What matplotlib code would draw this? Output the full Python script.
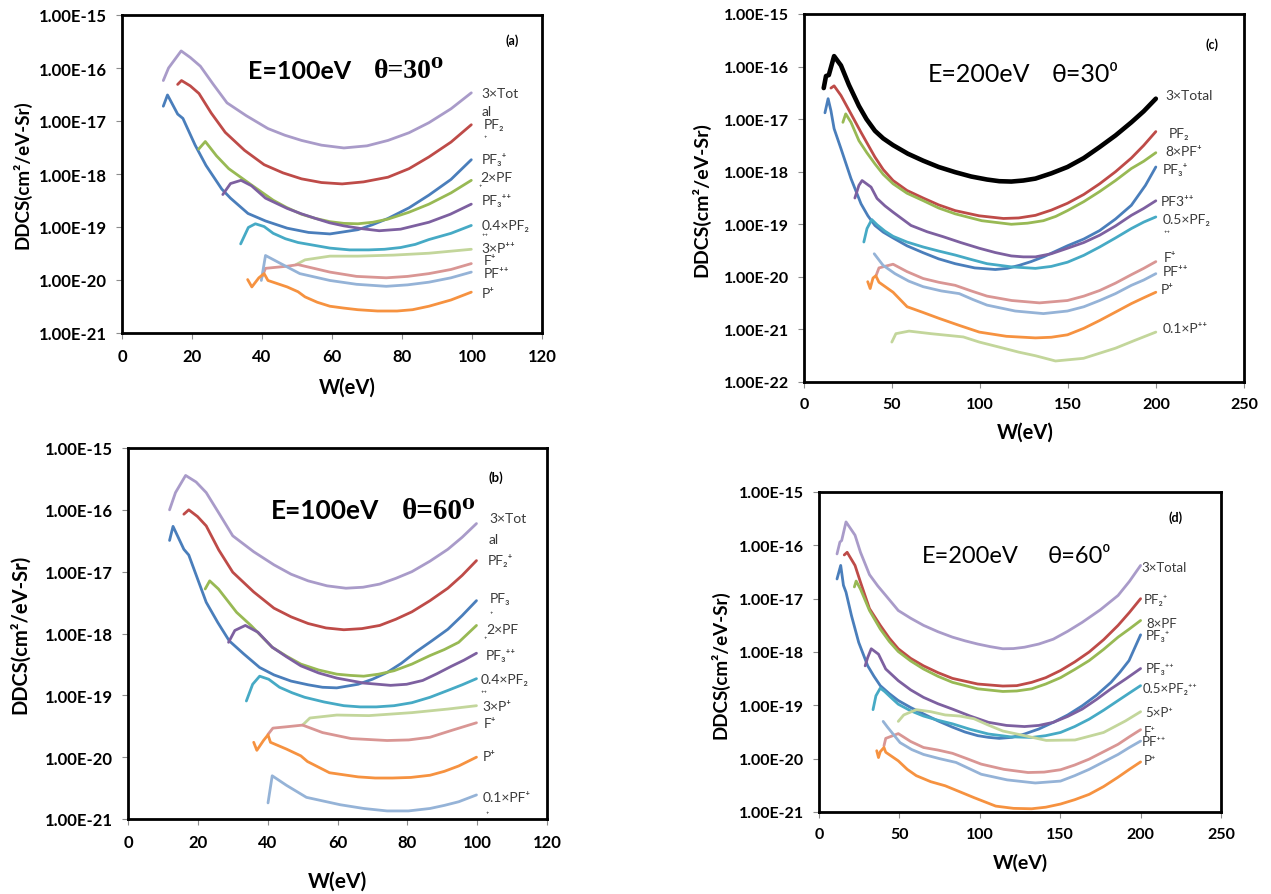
import numpy as np
import matplotlib
matplotlib.use("Agg")
import matplotlib.pyplot as plt
from matplotlib.ticker import FuncFormatter, NullLocator

plt.rcParams['font.family'] = ['Lato', 'DejaVu Sans']

# ---------------- data: panel (a) E=100 eV, theta=30 ----------------
a_total_w = [11.8, 13.3, 16.9, 19.5, 22.4, 26.0, 30.0, 35.5, 41.7, 46.5, 51.3, 57.0, 63.4, 70.0, 76.0, 82.0, 87.7, 94.0, 99.8]
a_total_y = [5.8e-17, 1.0e-16, 2.1e-16, 1.58e-16, 1.08e-16, 5.0e-17, 2.2e-17, 1.26e-17, 7.2e-18, 5.4e-18, 4.3e-18,
             3.5e-18, 3.1e-18, 3.4e-18, 4.3e-18, 6.0e-18, 9.3e-18, 1.7e-17, 3.4e-17]
a_pf2p_w = [15.9, 17.0, 19.5, 22.0, 25.5, 29.5, 35.0, 40.6, 46.0, 51.3, 57.0, 62.9, 69.0, 76.0, 82.0, 87.7, 94.0, 99.8]
a_pf2p_y = [4.9e-17, 5.8e-17, 4.6e-17, 3.3e-17, 1.41e-17, 6.1e-18, 2.8e-18, 1.5e-18, 1.05e-18, 8.1e-19, 6.9e-19,
            6.5e-19, 7.1e-19, 8.7e-19, 1.26e-18, 2.1e-18, 4.0e-18, 8.5e-18]
a_pf3p_w = [11.8, 13.0, 15.9, 17.4, 20.9, 24.0, 28.5, 31.0, 36.0, 41.0, 47.2, 53.3, 59.4, 67.4, 71.5, 76.0, 82.0,
            87.7, 94.0, 99.8]
a_pf3p_y = [1.9e-17, 3.1e-17, 1.35e-17, 1.12e-17, 3.5e-18, 1.45e-18, 5.2e-19, 3.5e-19, 1.8e-19, 1.3e-19, 9.5e-20,
            7.9e-20, 7.4e-20, 8.9e-20, 1.1e-19, 1.45e-19, 2.3e-19, 4.0e-19, 7.9e-19, 1.86e-18]
a_pfp_w = [21.9, 23.8, 27.0, 30.5, 37.0, 43.2, 47.0, 51.3, 55.3, 59.4, 63.4, 67.4, 71.7, 76.0, 82.0, 87.7, 94.0, 99.8]
a_pfp_y = [2.95e-18, 4.1e-18, 2.2e-18, 1.26e-18, 6.2e-19, 3.2e-19, 2.34e-19, 1.74e-19, 1.45e-19, 1.26e-19, 1.17e-19,
           1.15e-19, 1.23e-19, 1.41e-19, 1.9e-19, 2.7e-19, 4.4e-19, 7.6e-19]
a_pf3pp_w = [28.8, 31.0, 34.0, 37.0, 41.0, 47.2, 51.2, 55.3, 59.3, 63.4, 68.5, 73.5, 79.6, 87.7, 93.8, 99.8]
a_pf3pp_y = [4.1e-19, 6.6e-19, 7.6e-19, 6.0e-19, 3.5e-19, 2.24e-19, 1.78e-19, 1.45e-19, 1.2e-19, 1.05e-19, 9.3e-20,
             8.5e-20, 9.1e-20, 1.23e-19, 1.74e-19, 2.7e-19]
a_pf2pp_w = [33.9, 36.1, 38.1, 40.6, 43.2, 46.7, 50.3, 55.0, 59.4, 65.0, 70.5, 75.0, 79.6, 83.8, 87.7, 94.0, 99.8]
a_pf2pp_y = [4.8e-20, 9.8e-20, 1.15e-19, 1.02e-19, 7.6e-20, 6.0e-20, 5.1e-20, 4.5e-20, 4.0e-20, 3.7e-20, 3.7e-20,
             3.8e-20, 4.1e-20, 4.7e-20, 5.8e-20, 7.6e-20, 1.07e-19]
a_ppp_w = [49.7, 52.3, 59.4, 67.4, 77.6, 87.7, 99.8]
a_ppp_y = [1.95e-20, 2.4e-20, 2.82e-20, 2.82e-20, 2.95e-20, 3.2e-20, 3.8e-20]
a_fp_w = [40.1, 41.0, 47.2, 50.3, 59.4, 67.0, 75.5, 81.6, 87.7, 94.0, 99.8]
a_fp_y = [1.17e-20, 1.66e-20, 1.82e-20, 1.95e-20, 1.41e-20, 1.17e-20, 1.1e-20, 1.17e-20, 1.32e-20, 1.58e-20, 2.04e-20]
a_pfpp_w = [39.8, 41.0, 44.2, 50.8, 59.4, 67.0, 75.5, 81.6, 87.7, 94.0, 99.8]
a_pfpp_y = [9.8e-21, 2.9e-20, 2.24e-20, 1.32e-20, 9.8e-21, 8.3e-21, 7.6e-21, 8.1e-21, 9.1e-21, 1.1e-20, 1.41e-20]
a_pp_w = [35.9, 37.1, 39.1, 40.6, 41.7, 47.2, 50.3, 52.3, 55.8, 59.4, 63.4, 67.4, 73.0, 78.6, 83.0, 87.7, 94.0, 99.8]
a_pp_y = [1.02e-20, 7.4e-21, 1.1e-20, 1.32e-20, 9.8e-21, 7.4e-21, 6.0e-21, 4.8e-21, 3.8e-21, 3.2e-21, 2.95e-21,
          2.75e-21, 2.6e-21, 2.6e-21, 2.75e-21, 3.2e-21, 4.2e-21, 5.9e-21]

# ---------------- data: panel (b) E=100 eV, theta=60 ----------------
b_total_w = [11.9, 13.6, 16.5, 19.5, 22.4, 26.0, 30.0, 36.0, 41.8, 46.7, 51.6, 57.0, 62.4, 67.3, 72.1, 76.7, 81.3,
             86.5, 91.6, 95.7, 99.8]
b_total_y = [1.0e-16, 1.9e-16, 3.6e-16, 2.82e-16, 1.9e-16, 8.9e-17, 3.8e-17, 2.1e-17, 1.29e-17, 9.1e-18, 7.1e-18,
             5.9e-18, 5.4e-18, 5.6e-18, 6.3e-18, 7.8e-18, 1.0e-17, 1.48e-17, 2.3e-17, 3.6e-17, 6.0e-17]
b_pf2p_w = [16.0, 17.4, 19.9, 22.4, 26.0, 30.0, 36.0, 41.8, 46.7, 51.6, 56.7, 61.8, 67.0, 72.1, 76.7, 81.3, 86.5,
            91.6, 95.7, 99.8]
b_pf2p_y = [8.5e-17, 1.0e-16, 7.8e-17, 5.5e-17, 2.24e-17, 9.8e-18, 4.7e-18, 2.57e-18, 1.86e-18, 1.45e-18, 1.23e-18,
            1.15e-18, 1.2e-18, 1.35e-18, 1.7e-18, 2.24e-18, 3.4e-18, 5.4e-18, 8.7e-18, 1.51e-17]
b_pf3p_w = [11.9, 12.9, 16.0, 17.4, 22.4, 25.7, 29.0, 33.1, 37.7, 41.8, 46.7, 51.6, 55.7, 59.8, 65.9, 70.0, 74.2,
            78.3, 82.4, 87.0, 91.6, 95.7, 99.8]
b_pf3p_y = [3.2e-17, 5.4e-17, 2.3e-17, 1.86e-17, 3.2e-18, 1.51e-18, 7.6e-19, 4.7e-19, 2.82e-19, 2.14e-19, 1.7e-19,
            1.48e-19, 1.35e-19, 1.32e-19, 1.51e-19, 1.82e-19, 2.34e-19, 3.3e-19, 5.0e-19, 7.6e-19, 1.17e-18,
            1.95e-18, 3.4e-18]
b_pfp_w = [22.1, 23.4, 25.9, 28.5, 31.1, 35.2, 41.3, 45.4, 49.5, 54.6, 59.8, 63.7, 67.5, 71.8, 76.2, 81.3, 86.5,
           90.6, 94.7, 99.8]
b_pfp_y = [5.25e-18, 7.1e-18, 5.25e-18, 3.4e-18, 2.2e-18, 1.35e-18, 6.0e-19, 4.3e-19, 3.2e-19, 2.57e-19, 2.2e-19,
           2.1e-19, 2.04e-19, 2.2e-19, 2.5e-19, 3.2e-19, 4.4e-19, 5.5e-19, 7.2e-19, 1.35e-18]
b_pf3pp_w = [28.8, 30.6, 33.6, 37.2, 41.3, 45.4, 49.5, 54.6, 59.8, 67.5, 75.2, 79.8, 84.4, 88.5, 92.6, 96.2, 99.8]
b_pf3pp_y = [7.2e-19, 1.12e-18, 1.35e-18, 1.05e-18, 6.0e-19, 4.2e-19, 3.0e-19, 2.3e-19, 1.9e-19, 1.58e-19, 1.45e-19,
             1.51e-19, 1.74e-19, 2.24e-19, 2.95e-19, 3.7e-19, 4.8e-19]
b_pf2pp_w = [33.9, 35.7, 37.7, 40.3, 43.4, 47.0, 50.6, 56.2, 61.8, 66.5, 71.1, 76.2, 81.3, 86.5, 91.6, 95.7, 99.8]
b_pf2pp_y = [8.1e-20, 1.51e-19, 2.04e-19, 1.82e-19, 1.35e-19, 1.1e-19, 9.3e-20, 7.8e-20, 6.8e-20, 6.5e-20, 6.5e-20,
             6.8e-20, 7.6e-20, 9.3e-20, 1.2e-19, 1.48e-19, 1.86e-19]
b_ppp_w = [50.0, 52.1, 59.8, 69.0, 81.3, 91.6, 99.8]
b_ppp_y = [3.3e-20, 4.3e-20, 4.8e-20, 4.7e-20, 5.25e-20, 6.0e-20, 6.8e-20]
b_fp_w = [40.1, 41.5, 45.4, 50.0, 55.7, 63.9, 74.2, 80.4, 86.5, 92.6, 99.8]
b_fp_y = [2.34e-20, 2.95e-20, 3.1e-20, 3.3e-20, 2.5e-20, 2.0e-20, 1.86e-20, 1.9e-20, 2.1e-20, 2.7e-20, 3.6e-20]
b_pp_w = [36.0, 36.9, 38.8, 40.1, 40.8, 45.4, 49.5, 51.4, 57.7, 65.9, 70.8, 75.7, 81.0, 86.5, 90.6, 94.7, 99.8]
b_pp_y = [1.74e-20, 1.29e-20, 1.86e-20, 2.3e-20, 1.74e-20, 1.35e-20, 1.05e-20, 8.5e-21, 5.6e-21, 4.8e-21, 4.6e-21,
          4.6e-21, 4.7e-21, 5.1e-21, 5.9e-21, 7.2e-21, 1.0e-20]
b_pfpp_w = [40.1, 41.3, 45.4, 51.1, 60.8, 67.5, 74.2, 80.3, 86.5, 90.6, 94.7, 99.8]
b_pfpp_y = [1.82e-21, 5.0e-21, 3.5e-21, 2.24e-21, 1.7e-21, 1.48e-21, 1.35e-21, 1.35e-21, 1.48e-21, 1.66e-21,
            1.9e-21, 2.45e-21]

# ---------------- data: panel (c) E=200 eV, theta=30 ----------------
c_total_w = [11.2, 12.5, 14.1, 17.1, 21.0, 25.5, 31.2, 35.5, 40.3, 45.0, 50.6, 59.0, 67.7, 76.5, 85.9, 95.0, 104.0,
             111.0, 117.8, 124.6, 131.5, 140.5, 149.7, 159.0, 168.0, 177.0, 186.0, 193.0, 199.9]
c_total_y = [3.9e-17, 6.6e-17, 6.9e-17, 1.58e-16, 1.05e-16, 4.5e-17, 1.78e-17, 1.0e-17, 6.0e-18, 4.3e-18, 3.2e-18,
             2.2e-18, 1.62e-18, 1.23e-18, 9.8e-19, 8.1e-19, 7.1e-19, 6.6e-19, 6.5e-19, 6.8e-19, 7.4e-19, 9.3e-19,
             1.23e-18, 1.82e-18, 2.95e-18, 4.9e-18, 8.7e-18, 1.41e-17, 2.45e-17]
c_pf2p_w = [15.3, 17.1, 21.0, 26.7, 32.4, 40.3, 45.0, 50.6, 58.5, 67.7, 76.5, 85.9, 99.5, 113.3, 122.0, 131.5,
            140.5, 149.7, 159.0, 168.0, 177.0, 186.0, 193.0, 199.9]
c_pf2p_y = [3.9e-17, 4.3e-17, 2.82e-17, 1.26e-17, 5.6e-18, 1.9e-18, 1.1e-18, 6.8e-19, 4.4e-19, 3.16e-19, 2.34e-19,
            1.82e-19, 1.45e-19, 1.29e-19, 1.32e-19, 1.48e-19, 1.86e-19, 2.51e-19, 3.7e-19, 5.9e-19, 1.0e-18,
            1.82e-18, 3.16e-18, 5.8e-18]
c_pfp_w = [22.1, 23.7, 26.7, 31.2, 35.7, 40.3, 45.0, 50.6, 58.5, 67.7, 76.5, 85.9, 101.0, 117.8, 127.0, 136.0,
           143.0, 149.7, 159.0, 168.0, 177.0, 186.0, 193.0, 199.9]
c_pfp_y = [8.7e-18, 1.26e-17, 8.7e-18, 3.9e-18, 2.3e-18, 1.41e-18, 8.9e-19, 5.9e-19, 3.9e-19, 2.82e-19, 2.04e-19,
           1.58e-19, 1.17e-19, 1.0e-19, 1.05e-19, 1.17e-19, 1.41e-19, 1.82e-19, 2.7e-19, 4.2e-19, 6.8e-19,
           1.15e-18, 1.58e-18, 2.3e-18]
c_pf3p_w = [11.9, 13.7, 15.3, 17.1, 21.0, 26.7, 32.4, 36.3, 40.3, 45.0, 50.6, 58.5, 67.7, 76.5, 85.9, 97.0, 108.7,
            115.5, 122.4, 129.0, 136.0, 149.7, 159.0, 168.0, 177.0, 186.0, 194.0, 199.9]
c_pf3p_y = [1.32e-17, 2.45e-17, 1.45e-17, 6.6e-18, 2.75e-18, 7.4e-19, 2.45e-19, 1.45e-19, 9.5e-20, 7.1e-20, 5.5e-20,
            3.9e-20, 2.88e-20, 2.2e-20, 1.78e-20, 1.48e-20, 1.38e-20, 1.45e-20, 1.66e-20, 1.95e-20, 2.4e-20,
            3.9e-20, 5.25e-20, 7.6e-20, 1.26e-19, 2.3e-19, 5.5e-19, 1.23e-18]
c_pf3pp_w = [28.9, 31.2, 33.0, 38.1, 41.5, 46.0, 50.6, 60.8, 70.0, 79.1, 89.0, 99.6, 108.7, 117.8, 124.6, 131.5,
             140.5, 149.7, 159.0, 168.0, 177.0, 186.0, 193.0, 199.9]
c_pf3pp_y = [3.16e-19, 5.5e-19, 6.8e-19, 5.1e-19, 3.1e-19, 2.24e-19, 1.7e-19, 9.5e-20, 7.2e-20, 5.8e-20, 4.5e-20,
             3.5e-20, 2.9e-20, 2.5e-20, 2.4e-20, 2.4e-20, 2.75e-20, 3.5e-20, 4.5e-20, 6.2e-20, 9.3e-20, 1.48e-19,
             2.0e-19, 2.8e-19]
c_pf2pp_w = [34.0, 35.8, 38.5, 41.5, 46.0, 50.6, 58.5, 67.7, 76.5, 85.9, 95.0, 104.0, 117.8, 131.5, 140.5, 149.7,
             159.0, 168.0, 177.0, 186.0, 193.0, 199.9]
c_pf2pp_y = [4.6e-20, 8.3e-20, 1.23e-19, 9.8e-20, 7.4e-20, 5.9e-20, 4.6e-20, 3.7e-20, 3.1e-20, 2.6e-20, 2.14e-20,
             1.78e-20, 1.55e-20, 1.45e-20, 1.58e-20, 1.9e-20, 2.57e-20, 3.7e-20, 5.5e-20, 8.3e-20, 1.1e-19, 1.38e-19]
c_fp_w = [41.0, 42.6, 50.6, 58.5, 67.7, 76.5, 85.9, 95.0, 104.0, 118.0, 133.8, 149.7, 159.0, 168.0, 177.0, 186.0,
          193.0, 199.9]
c_fp_y = [1.07e-20, 1.48e-20, 1.74e-20, 1.26e-20, 9.3e-21, 7.9e-21, 6.9e-21, 5.4e-21, 4.3e-21, 3.55e-21, 3.2e-21,
          3.55e-21, 4.3e-21, 5.5e-21, 7.6e-21, 1.1e-20, 1.45e-20, 1.95e-20]
c_pfpp_w = [39.9, 44.9, 51.7, 59.5, 67.7, 78.0, 88.2, 96.0, 104.0, 120.0, 136.0, 149.7, 159.0, 168.0, 177.0, 186.0,
            193.0, 199.9]
c_pfpp_y = [2.75e-20, 1.66e-20, 1.15e-20, 8.3e-21, 6.5e-21, 5.4e-21, 4.8e-21, 3.7e-21, 2.9e-21, 2.24e-21, 2.0e-21,
            2.24e-21, 2.7e-21, 3.55e-21, 4.8e-21, 6.9e-21, 8.7e-21, 1.15e-20]
c_pp_w = [36.2, 37.6, 39.2, 40.8, 42.6, 50.6, 58.6, 67.7, 76.8, 88.0, 99.6, 115.0, 131.5, 140.5, 149.7, 159.0,
          168.0, 177.0, 186.0, 193.0, 199.9]
c_pp_y = [8.1e-21, 6.0e-21, 9.5e-21, 1.05e-20, 7.9e-21, 5.1e-21, 2.7e-21, 2.1e-21, 1.62e-21, 1.2e-21, 8.9e-22,
          7.4e-22, 6.9e-22, 7.1e-22, 7.9e-22, 1.05e-21, 1.48e-21, 2.14e-21, 3.1e-21, 4.0e-21, 5.1e-21]
c_ppp_w = [49.9, 52.2, 59.7, 72.2, 90.5, 99.6, 113.3, 122.0, 131.5, 142.9, 158.8, 177.0, 188.0, 199.9]
c_ppp_y = [5.75e-22, 8.3e-22, 9.3e-22, 8.3e-22, 7.2e-22, 5.75e-22, 4.4e-22, 3.7e-22, 3.16e-22, 2.51e-22, 2.82e-22,
           4.4e-22, 6.2e-22, 8.9e-22]

# ---------------- data: panel (d) E=200 eV, theta=60 ----------------
d_total_w = [11.2, 13.0, 14.1, 16.8, 22.4, 25.8, 31.4, 36.5, 41.5, 49.3, 57.0, 65.0, 74.0, 83.0, 90.8, 98.7, 106.5,
             114.3, 121.0, 127.8, 136.7, 145.7, 154.7, 163.7, 175.0, 186.0, 193.0, 200.0]
d_total_y = [6.9e-17, 1.15e-16, 1.23e-16, 2.75e-16, 1.55e-16, 7.4e-17, 2.82e-17, 1.74e-17, 1.15e-17, 6.0e-18,
             4.3e-18, 3.16e-18, 2.4e-18, 1.9e-18, 1.62e-18, 1.41e-18, 1.26e-18, 1.15e-18, 1.16e-18, 1.23e-18,
             1.41e-18, 1.74e-18, 2.45e-18, 3.6e-18, 6.2e-18, 1.15e-17, 2.1e-17, 4.2e-17]
d_pf2p_w = [15.7, 17.5, 22.4, 25.8, 31.4, 38.1, 43.7, 49.3, 57.0, 65.0, 74.0, 83.0, 98.7, 114.3, 123.0, 132.3,
            141.0, 150.2, 159.0, 168.0, 177.0, 186.0, 193.0, 200.0]
d_pf2p_y = [6.6e-17, 7.4e-17, 4.2e-17, 2.04e-17, 6.5e-18, 3.16e-18, 1.82e-18, 1.15e-18, 7.6e-19, 5.5e-19, 4.1e-19,
            3.2e-19, 2.51e-19, 2.3e-19, 2.34e-19, 2.7e-19, 3.3e-19, 4.5e-19, 6.5e-19, 1.0e-18, 1.7e-18, 3.16e-18,
            5.5e-18, 1.0e-17]
d_pfp_w = [22.0, 23.1, 25.8, 31.4, 38.1, 43.7, 49.3, 57.0, 65.0, 74.0, 83.0, 98.7, 114.3, 123.0, 132.3, 141.0,
           150.2, 159.0, 168.0, 177.0, 186.0, 193.0, 200.0]
d_pfp_y = [1.66e-17, 2.14e-17, 1.51e-17, 6.0e-18, 2.7e-18, 1.58e-18, 1.02e-18, 6.8e-19, 4.8e-19, 3.5e-19, 2.7e-19,
           2.04e-19, 1.82e-19, 1.86e-19, 2.04e-19, 2.51e-19, 3.3e-19, 4.7e-19, 6.9e-19, 1.12e-18, 1.9e-18,
           2.7e-18, 3.9e-18]
d_pf3p_w = [11.2, 13.5, 15.2, 16.8, 20.2, 24.7, 30.3, 34.2, 38.1, 43.7, 49.3, 57.0, 65.0, 74.0, 83.0, 90.8, 98.7,
            105.4, 112.1, 120.0, 127.8, 136.7, 145.7, 154.7, 163.7, 172.6, 181.6, 187.2, 192.8, 200.0]
d_pf3p_y = [2.34e-17, 4.2e-17, 1.78e-17, 1.32e-17, 4.8e-18, 1.51e-18, 5.5e-19, 3.5e-19, 2.34e-19, 1.66e-19,
            1.23e-19, 9.1e-20, 6.9e-20, 5.1e-20, 3.9e-20, 3.16e-20, 2.7e-20, 2.51e-20, 2.4e-20, 2.51e-20, 2.9e-20,
            3.6e-20, 4.8e-20, 6.6e-20, 9.8e-20, 1.55e-19, 2.7e-19, 4.2e-19, 6.9e-19, 2.1e-18]
d_pf3pp_w = [28.7, 30.3, 32.5, 37.0, 41.5, 49.3, 57.0, 65.0, 74.0, 83.0, 94.0, 105.4, 116.6, 127.8, 136.7, 145.7,
             154.7, 163.7, 172.6, 181.6, 191.0, 200.0]
d_pf3pp_y = [5.5e-19, 7.9e-19, 1.15e-18, 9.1e-19, 4.8e-19, 2.9e-19, 1.95e-19, 1.41e-19, 1.07e-19, 8.5e-20, 6.3e-20,
             4.8e-20, 4.2e-20, 4.0e-20, 4.2e-20, 4.8e-20, 6.2e-20, 8.5e-20, 1.29e-19, 2.04e-19, 3.16e-19, 4.9e-19]
d_pf2pp_w = [33.6, 35.4, 38.1, 40.8, 45.0, 49.3, 57.0, 65.0, 74.0, 83.0, 94.0, 105.4, 119.0, 132.3, 141.0, 150.2,
             159.0, 168.0, 177.0, 186.0, 193.0, 200.0]
d_pf2pp_y = [8.3e-20, 1.51e-19, 2.1e-19, 1.82e-19, 1.38e-19, 1.05e-19, 7.9e-20, 6.3e-20, 5.25e-20, 4.5e-20, 3.55e-20,
             2.9e-20, 2.57e-20, 2.5e-20, 2.7e-20, 3.1e-20, 4.0e-20, 5.5e-20, 8.1e-20, 1.23e-19, 1.7e-19, 2.34e-19]
d_ppp_w = [49.3, 52.7, 60.5, 69.5, 78.5, 87.5, 96.4, 105.0, 114.3, 127.8, 141.3, 159.2, 177.0, 190.6, 200.0]
d_ppp_y = [5.0e-20, 6.6e-20, 8.3e-20, 7.6e-20, 6.6e-20, 6.3e-20, 5.6e-20, 4.3e-20, 3.3e-20, 2.7e-20, 2.2e-20,
           2.24e-20, 3.1e-20, 5.1e-20, 7.6e-20]
d_fp_w = [40.4, 41.5, 49.3, 57.0, 65.0, 74.0, 83.0, 92.0, 100.9, 115.0, 130.0, 140.0, 150.2, 159.0, 168.0, 177.0,
          186.0, 193.0, 200.0]
d_fp_y = [1.74e-20, 2.4e-20, 2.95e-20, 2.1e-20, 1.62e-20, 1.45e-20, 1.26e-20, 1.0e-20, 7.9e-21, 6.3e-21, 5.5e-21,
          5.6e-21, 6.2e-21, 7.6e-21, 9.8e-21, 1.35e-20, 1.86e-20, 2.57e-20, 3.5e-20]
d_pfpp_w = [39.9, 42.6, 50.4, 57.7, 65.0, 75.0, 85.2, 93.0, 100.9, 117.0, 134.5, 150.2, 159.0, 168.0, 177.0, 186.0,
            193.0, 200.0]
d_pfpp_y = [5.0e-20, 3.9e-20, 2.0e-20, 1.48e-20, 1.2e-20, 1.0e-20, 8.5e-21, 6.6e-21, 5.1e-21, 4.0e-21, 3.5e-21,
            3.8e-21, 4.8e-21, 6.3e-21, 8.7e-21, 1.2e-20, 1.62e-20, 2.14e-20]
d_pp_w = [35.9, 37.0, 38.1, 40.4, 41.5, 49.3, 54.9, 60.5, 69.5, 78.5, 87.5, 96.4, 109.9, 121.0, 132.3, 141.0, 150.2,
          159.0, 168.0, 177.0, 186.0, 193.0, 200.0]
d_pp_y = [1.41e-20, 1.05e-20, 1.35e-20, 1.62e-20, 1.32e-20, 9.1e-21, 6.3e-21, 4.8e-21, 3.7e-21, 3.1e-21, 2.4e-21,
          1.86e-21, 1.29e-21, 1.17e-21, 1.15e-21, 1.23e-21, 1.41e-21, 1.7e-21, 2.14e-21, 3.0e-21, 4.5e-21, 6.3e-21,
          8.7e-21]

# ---------------- styles ----------------
LAV = '#A99BC9'
RED = '#BE4B48'
BLUE = '#4A7EBB'
GREEN = '#98B954'
PURPLE = '#7D60A0'
TEAL = '#46AAC5'
ORANGE = '#F69240'
PINK = '#D99694'
LBLUE = '#95B3D7'
LGREEN = '#C3D69B'
LBL_COL = '#3a3a3a'

FW, FH = 1271, 895
fig = plt.figure(figsize=(FW / 100, FH / 100), dpi=100)


def add_axes(l, t, r, b):
    return fig.add_axes([l / FW, 1 - b / FH, (r - l) / FW, (b - t) / FH])


def sci(v, pos):
    e = int(round(np.log10(v)))
    return "1.00E%d" % e


def style(ax, xmax, xstep, ymin_exp, ymax_exp, tick_fs):
    ax.set_yscale('log')
    ax.set_xlim(0, xmax)
    ax.set_ylim(10.0 ** ymin_exp, 10.0 ** ymax_exp)
    ax.set_xticks(np.arange(0, xmax + 1, xstep))
    ax.set_xticklabels([str(int(v)) for v in np.arange(0, xmax + 1, xstep)], fontweight='bold')
    ax.set_yticks([10.0 ** e for e in range(ymin_exp, ymax_exp + 1)])
    ax.yaxis.set_major_formatter(FuncFormatter(sci))
    ax.yaxis.set_minor_locator(NullLocator())
    for lab in ax.get_yticklabels():
        lab.set_fontweight('bold')
    ax.tick_params(axis='both', which='major', direction='out', length=4, width=0.8,
                   color='#8c8c8c', labelsize=tick_fs, pad=7)
    for s in ax.spines.values():
        s.set_linewidth(2.0)
        s.set_color('black')


def curves(ax, series):
    for w, y, col, lw in series:
        ax.plot(w, y, color=col, lw=lw, solid_joinstyle='round', solid_capstyle='round')


def labels(ax, items, fs=10):
    for txt, x, ly in items:
        size = fs * 0.75 if txt in ("⁺", "⁺⁺") else fs
        ax.text(x, 10.0 ** ly, txt, fontsize=size, color=LBL_COL, ha='left', va='center')


LW = 2.0

# ---------------- panel (a) ----------------
ax = add_axes(122, 16, 542, 334)
style(ax, 120, 20, -21, -15, 12)
curves(ax, [
    (a_total_w, a_total_y, LAV, LW), (a_pf2p_w, a_pf2p_y, RED, LW), (a_pf3p_w, a_pf3p_y, BLUE, LW),
    (a_pfp_w, a_pfp_y, GREEN, LW), (a_pf3pp_w, a_pf3pp_y, PURPLE, LW), (a_pf2pp_w, a_pf2pp_y, TEAL, LW),
    (a_ppp_w, a_ppp_y, LGREEN, LW), (a_fp_w, a_fp_y, PINK, LW), (a_pfpp_w, a_pfpp_y, LBLUE, LW),
    (a_pp_w, a_pp_y, ORANGE, LW)])
labels(ax, [("3×Tot", 102.8, -16.47), ("al", 102.8, -16.81), ("PF₂", 103.3, -17.06), ("⁺", 103.3, -17.35),
            ("PF₃⁺", 102.8, -17.70), ("2×PF", 102.3, -18.06), ("⁺", 101.8, -18.27), ("PF₃⁺⁺", 102.8, -18.48),
            ("0.4×PF₂", 102.8, -18.96), ("⁺⁺", 102.8, -19.19), ("3×P⁺⁺", 102.8, -19.40), ("F⁺", 103.3, -19.63),
            ("PF⁺⁺", 103.3, -19.86), ("P⁺", 102.8, -20.24)])
ax.text(36, 10 ** -16.04, "E=100eV", fontsize=18, fontweight='bold', ha='left', va='center')
ax.text(72, 10 ** -16.04, "θ=30⁰", fontsize=20, fontweight='bold', ha='left', va='center',
        family=['Liberation Serif', 'DejaVu Serif'])
ax.text(111.4, 10 ** -15.47, "(a)", fontsize=9, fontweight='bold', ha='center', va='center')
fig.text(22 / FW, 1 - 175 / FH, "DDCS(cm²/eV-Sr)", rotation=90, fontsize=13.5, fontweight='bold',
         ha='center', va='center')
fig.text(347 / FW, 1 - 388 / FH, "W(eV)", fontsize=14.5, fontweight='bold', ha='center', va='center')

# ---------------- panel (c) ----------------
ax = add_axes(804, 15, 1244, 383)
style(ax, 250, 50, -22, -15, 11.5)
curves(ax, [
    (c_pf2p_w, c_pf2p_y, RED, LW), (c_pfp_w, c_pfp_y, GREEN, LW), (c_pf3p_w, c_pf3p_y, BLUE, LW),
    (c_pf3pp_w, c_pf3pp_y, PURPLE, LW), (c_pf2pp_w, c_pf2pp_y, TEAL, LW), (c_fp_w, c_fp_y, PINK, LW),
    (c_pfpp_w, c_pfpp_y, LBLUE, LW), (c_pp_w, c_pp_y, ORANGE, LW), (c_ppp_w, c_ppp_y, LGREEN, LW),
    (c_total_w, c_total_y, 'black', 3.3)])
labels(ax, [("3×Total", 205.6, -16.55), ("PF₂", 207.2, -17.27), ("8×PF⁺", 205.6, -17.60),
            ("PF₃⁺", 204.0, -17.93), ("PF3⁺⁺", 202.8, -18.55), ("0.5×PF₂", 204.0, -18.90), ("⁺⁺", 204.0, -19.20),
            ("F⁺", 204.4, -19.62), ("PF⁺⁺", 204.0, -19.88), ("P⁺", 202.8, -20.24), ("0.1×P⁺⁺", 204.0, -20.97)])
ax.text(70.4, 10 ** -16.14, "E=200eV", fontsize=18, ha='left', va='center')
ax.text(140.6, 10 ** -16.14, "θ=30⁰", fontsize=18, ha='left', va='center')
ax.text(231.8, 10 ** -15.57, "(c)", fontsize=9, fontweight='bold', ha='center', va='center')
fig.text(701 / FW, 1 - 200 / FH, "DDCS(cm²/eV-Sr)", rotation=90, fontsize=14, fontweight='bold',
         ha='center', va='center')
fig.text(1025 / FW, 1 - 433 / FH, "W(eV)", fontsize=14.5, fontweight='bold', ha='center', va='center')

# ---------------- panel (b) ----------------
ax = add_axes(128, 449, 547, 820)
style(ax, 120, 20, -21, -15, 12)
curves(ax, [
    (b_total_w, b_total_y, LAV, LW), (b_pf2p_w, b_pf2p_y, RED, LW), (b_pf3p_w, b_pf3p_y, BLUE, LW),
    (b_pfp_w, b_pfp_y, GREEN, LW), (b_pf3pp_w, b_pf3pp_y, PURPLE, LW), (b_pf2pp_w, b_pf2pp_y, TEAL, LW),
    (b_ppp_w, b_ppp_y, LGREEN, LW), (b_fp_w, b_fp_y, PINK, LW), (b_pp_w, b_pp_y, ORANGE, LW),
    (b_pfpp_w, b_pfpp_y, LBLUE, LW)])
labels(ax, [("3×Tot", 103.4, -16.14), ("al", 103.4, -16.47), ("PF₂⁺", 103.1, -16.80), ("PF₃", 103.6, -17.43),
            ("⁺", 103.6, -17.71), ("2×PF", 102.6, -17.92), ("⁺", 101.8, -18.12), ("PF₃⁺⁺", 102.6, -18.34),
            ("0.4×PF₂", 101.0, -18.73), ("⁺⁺", 101.0, -18.98), ("3×P⁺", 101.6, -19.18), ("F⁺", 101.8, -19.45),
            ("P⁺", 101.6, -19.98), ("0.1×PF⁺", 101.6, -20.65), ("⁺", 102.4, -20.95)])
ax.text(40.8, 10 ** -16.01, "E=100eV", fontsize=19, fontweight='bold', ha='left', va='center')
ax.text(78.3, 10 ** -16.01, "θ=60⁰", fontsize=21, fontweight='bold', ha='left', va='center',
        family=['Liberation Serif', 'DejaVu Serif'])
ax.text(105.4, 10 ** -15.47, "(b)", fontsize=9.5, fontweight='bold', ha='center', va='center')
fig.text(20 / FW, 1 - 634 / FH, "DDCS(cm²/eV-Sr)", rotation=90, fontsize=14.5, fontweight='bold',
         ha='center', va='center')
fig.text(337 / FW, 1 - 882 / FH, "W(eV)", fontsize=15, fontweight='bold', ha='center', va='center')

# ---------------- panel (d) ----------------
ax = add_axes(819, 493, 1221, 813)
style(ax, 250, 50, -21, -15, 11.5)
curves(ax, [
    (d_total_w, d_total_y, LAV, LW), (d_pf2p_w, d_pf2p_y, RED, LW), (d_pfp_w, d_pfp_y, GREEN, LW),
    (d_pf3p_w, d_pf3p_y, BLUE, LW), (d_pf3pp_w, d_pf3pp_y, PURPLE, LW), (d_pf2pp_w, d_pf2pp_y, TEAL, LW),
    (d_ppp_w, d_ppp_y, LGREEN, LW), (d_fp_w, d_fp_y, PINK, LW), (d_pfpp_w, d_pfpp_y, LBLUE, LW),
    (d_pp_w, d_pp_y, ORANGE, LW)])
labels(ax, [("3×Total", 200.7, -16.41), ("PF₂⁺", 201.8, -17.00), ("8×PF", 203.6, -17.45),
            ("PF₃⁺", 202.9, -17.69), ("PF₃⁺⁺", 202.9, -18.30), ("0.5×PF₂⁺⁺", 201.3, -18.68),
            ("5×P⁺", 202.9, -19.12), ("F⁺", 201.8, -19.48), ("PF⁺⁺", 200.7, -19.67), ("P⁺", 201.8, -20.02)],
       fs=9.5)
ax.text(63.9, 10 ** -16.2, "E=200eV", fontsize=17, ha='left', va='center')
ax.text(142.4, 10 ** -16.2, "θ=60⁰", fontsize=17, ha='left', va='center')
ax.text(222, 10 ** -15.47, "(d)", fontsize=9, fontweight='bold', ha='center', va='center')
fig.text(720 / FW, 1 - 665 / FH, "DDCS(cm²/eV-Sr)", rotation=90, fontsize=13.5, fontweight='bold',
         ha='center', va='center')
fig.text(1020 / FW, 1 - 863 / FH, "W(eV)", fontsize=14, fontweight='bold', ha='center', va='center')

fig.savefig("out.png", dpi=100, facecolor='white')
